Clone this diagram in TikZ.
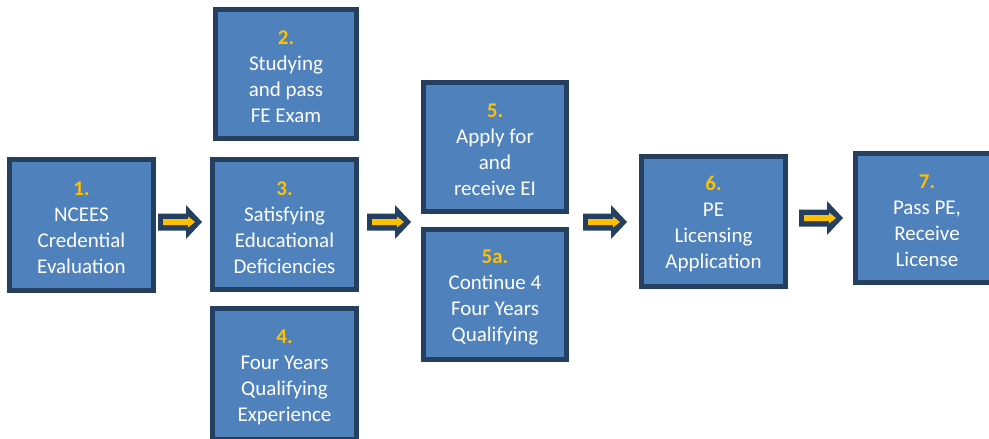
\documentclass[tikz,border=0pt]{standalone}
\usepackage{fontspec}
\setmainfont{Carlito}
\definecolor{boxfill}{HTML}{4F81BD}
\definecolor{navy}{HTML}{243F60}
\definecolor{gold}{HTML}{FFC000}
\begin{document}
\begin{tikzpicture}[x=1pt,y=-1pt,
  stepbox/.style={draw=navy,line width=5pt,fill=boxfill,inner sep=0pt},
  steptext/.style={text=white,align=center,inner sep=0pt,font=\fontsize{21}{26}\selectfont,yshift=-3pt},
  pics/blockarrow/.style={code={
    \fill[navy] (0,-8.5) -- (28,-8.5) -- (28,-17) -- (44,0) -- (28,17) -- (28,8.5) -- (0,8.5) -- cycle;
    \fill[gold] (5,-3) -- (30,-3) -- (30,-5.5) -- (37,0) -- (30,5.5) -- (30,3) -- (5,3) -- cycle;
  }}]
\useasboundingbox (0,0) rectangle (989,439);
\newcommand\num[1]{{\color{gold}\bfseries #1}}
\begin{scope}
\clip (0,0) rectangle (989,439);
\node[stepbox,minimum width=144,minimum height=131] (b1) at (81.5,225) {};
\node[stepbox,minimum width=141,minimum height=129] (b2) at (286,74) {};
\node[stepbox,minimum width=144,minimum height=130] (b3) at (284.5,224.5) {};
\node[stepbox,minimum width=144,minimum height=131] (b4) at (284.5,374) {};
\node[stepbox,minimum width=143,minimum height=129] (b5) at (495,147) {};
\node[stepbox,minimum width=143,minimum height=130] (b5a) at (495,294.5) {};
\node[stepbox,minimum width=144,minimum height=130] (b6) at (713.5,221.5) {};
\node[stepbox,minimum width=143,minimum height=129] (b7) at (927,218) {};
\end{scope}
\node[steptext] (t1) at (b1) {\num{1.}\\NCEES\\Credential\\Evaluation};
\node[steptext] (t2) at (b2) {\num{2.}\\Studying\\and pass\\FE Exam};
\node[steptext] (t3) at (b3) {\num{3.}\\Satisfying\\Educational\\Deficiencies};
\node[steptext] (t4) at (b4) {\num{4.}\\Four Years\\Qualifying\\Experience};
\node[steptext] (t5) at (b5) {\num{5.}\\Apply for\\and\\receive EI};
\node[steptext] (t5a) at (b5a) {\num{5a.}\\Continue 4\\Four Years\\Qualifying};
\node[steptext] (t6) at (b6) {\num{6.}\\PE\\Licensing\\Application};
\node[steptext] (t7) at (b7) {\num{7.}\\Pass PE,\\Receive\\License};
\pic at (158,222) {blockarrow};
\pic at (367,222) {blockarrow};
\pic at (583,222) {blockarrow};
\pic at (799,218) {blockarrow};
\end{tikzpicture}
\end{document}
